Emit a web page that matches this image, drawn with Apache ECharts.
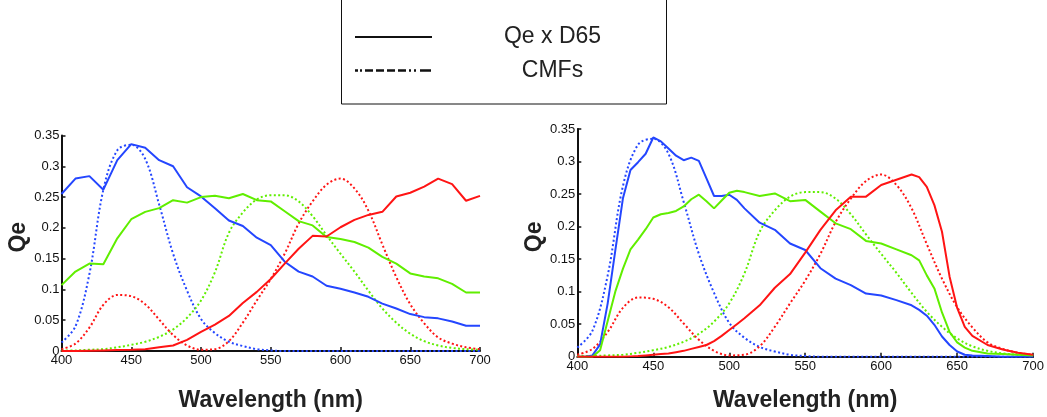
<!DOCTYPE html>
<html>
<head>
<meta charset="utf-8">
<script src="https://cdn.jsdelivr.net/npm/echarts@6/dist/echarts.min.js"></script>
<style>
html,body{margin:0;padding:0;background:#fff;}
#chart{width:1047px;height:417px;}
</style>
</head>
<body>
<div id="chart"></div>
<script>
// ---------- DATA ----------
const wl10 = [400,410,420,430,440,450,460,470,480,490,500,510,520,530,540,550,560,570,580,590,600,610,620,630,640,650,660,670,680,690,700];

// Colour matching functions (dotted), same in both panels
const cmfRed   = [0.003,0.012,0.038,0.075,0.091,0.089,0.076,0.051,0.026,0.009,0.002,0.003,0.016,0.046,0.082,0.117,0.158,0.207,0.243,0.270,0.280,0.264,0.228,0.173,0.120,0.076,0.045,0.022,0.012,0.006,0.003];
const cmfGreen = [0.001,0.001,0.002,0.003,0.006,0.010,0.015,0.023,0.035,0.054,0.082,0.128,0.192,0.225,0.246,0.253,0.253,0.243,0.219,0.188,0.158,0.129,0.098,0.069,0.046,0.028,0.016,0.009,0.005,0.003,0.002];
const cmfBlue  = [0.014,0.040,0.125,0.262,0.326,0.335,0.312,0.238,0.158,0.098,0.052,0.029,0.015,0.008,0.003,0.001,0,0,0,0,0,0,0,0,0,0,0,0,0,0,0];

// Left panel: Qe x D65 (solid)
const leftRed   = [0,0,0.0005,0.001,0.0015,0.002,0.003,0.006,0.009,0.018,0.031,0.043,0.057,0.078,0.096,0.117,0.142,0.166,0.187,0.186,0.201,0.213,0.221,0.226,0.251,0.257,0.267,0.280,0.271,0.244,0.252];
const leftGreen = [0.107,0.129,0.142,0.141,0.183,0.214,0.226,0.232,0.245,0.241,0.250,0.252,0.248,0.255,0.245,0.243,0.227,0.211,0.204,0.185,0.182,0.177,0.168,0.153,0.142,0.126,0.121,0.118,0.109,0.095,0.095];
const leftBlue  = [0.255,0.280,0.284,0.262,0.310,0.336,0.330,0.310,0.300,0.266,0.251,0.232,0.212,0.203,0.184,0.172,0.145,0.129,0.121,0.106,0.101,0.095,0.088,0.077,0.069,0.060,0.055,0.053,0.048,0.041,0.041];

// Right panel: Qe x D65 (solid)
const rightWl    = [400,405,410,415,420,425,430,435,440,445,450,455,460,465,470,475,480,485,490,495,500,505,510,520,530,540,550,560,570,580,590,600,610,620,625,630,635,640,645,650,655,660,670,680,690,700];
const rightRed   = [0,0,0,0,0,0,0,0.0005,0.001,0.002,0.003,0.004,0.005,0.007,0.009,0.012,0.015,0.018,0.024,0.032,0.041,0.050,0.059,0.079,0.106,0.127,0.160,0.195,0.225,0.246,0.246,0.264,0.272,0.280,0.276,0.261,0.233,0.192,0.123,0.075,0.046,0.032,0.018,0.011,0.006,0.003];
const rightGreen = [0,0,0,0.010,0.055,0.100,0.135,0.165,0.180,0.196,0.214,0.219,0.221,0.224,0.231,0.242,0.249,0.239,0.228,0.240,0.252,0.255,0.253,0.247,0.251,0.239,0.241,0.223,0.205,0.196,0.178,0.174,0.165,0.156,0.148,0.125,0.105,0.068,0.038,0.022,0.014,0.009,0.005,0.004,0.003,0.002];
const rightBlue  = [0,0,0.002,0.019,0.082,0.163,0.243,0.287,0.299,0.312,0.337,0.331,0.320,0.309,0.302,0.306,0.301,0.274,0.247,0.247,0.249,0.241,0.228,0.206,0.195,0.174,0.164,0.136,0.120,0.110,0.097,0.094,0.087,0.079,0.072,0.063,0.049,0.031,0.018,0.008,0.003,0.002,0.001,0,0,0];

const xTicks = {min:400, max:700, step:50};
const yTicks = {min:0, max:0.35, step:0.05};

// ---------- STYLE ----------
const C_RED = '#ff1414', C_GREEN = '#60ee00', C_BLUE = '#2446ff';
const FONT = '"Liberation Sans", Arial, sans-serif';

function pairs(xs, ys){ return xs.map((x,i)=>[x, ys[i]]); }

function solid(name, xs, ys, color, idx){
  return {name, type:'line', xAxisIndex:idx, yAxisIndex:idx, data:pairs(xs,ys), showSymbol:false,
    lineStyle:{color, width:2}, itemStyle:{color}, z:3, animation:false};
}
function dotted(name, xs, ys, color, idx){
  return {name, type:'line', xAxisIndex:idx, yAxisIndex:idx, data:pairs(xs,ys), showSymbol:false, smooth:0.35,
    lineStyle:{color, width:2, type:[2,2.4]}, itemStyle:{color}, z:2, animation:false};
}

function xAxis(idx, gap){
  return {type:'value', gridIndex:idx, min:xTicks.min, max:xTicks.max, interval:xTicks.step,
    name:'Wavelength (nm)', nameLocation:'middle', nameGap:gap,
    nameTextStyle:{fontFamily:FONT, fontSize:23, fontWeight:'bold', color:'#222'},
    axisLine:{show:true, onZero:false, lineStyle:{color:'#111', width:2}},
    axisTick:{show:true, inside:true, length:4, lineStyle:{color:'#111', width:1.5}},
    axisLabel:{fontFamily:FONT, fontSize:13, color:'#111', margin:3, showMinLabel:true, showMaxLabel:true},
    splitLine:{show:false}};
}
function yAxis(idx){
  return {type:'value', gridIndex:idx, min:yTicks.min, max:yTicks.max, interval:yTicks.step,
    name:'Qe', nameLocation:'middle', nameGap:31,
    nameTextStyle:{fontFamily:FONT, fontSize:23, fontWeight:'bold', color:'#222', padding:[0,0,0,12]},
    axisLine:{show:true, onZero:false, lineStyle:{color:'#111', width:2}},
    axisTick:{show:true, inside:true, length:4, lineStyle:{color:'#111', width:1.5}},
    axisLabel:{fontFamily:FONT, fontSize:13, color:'#111', margin:2, showMinLabel:true, showMaxLabel:true},
    splitLine:{show:false}};
}

const chart = echarts.init(document.getElementById('chart'), null, {renderer:'canvas'});
chart.setOption({
  backgroundColor:'#fff',
  animation:false,
  grid:[
    {left:61.5, top:135.5, width:418.5, height:215.5},
    {left:577.3, top:129, width:456.7, height:227.7}
  ],
  xAxis:[xAxis(0,38), xAxis(1,32)],
  yAxis:[yAxis(0), yAxis(1)],
  series:[
    dotted('CMF blue', wl10, cmfBlue, C_BLUE, 0),
    dotted('CMF green', wl10, cmfGreen, C_GREEN, 0),
    dotted('CMF red', wl10, cmfRed, C_RED, 0),
    solid('Qe x D65 blue', wl10, leftBlue, C_BLUE, 0),
    solid('Qe x D65 green', wl10, leftGreen, C_GREEN, 0),
    solid('Qe x D65 red', wl10, leftRed, C_RED, 0),
    dotted('CMF blue', wl10, cmfBlue, C_BLUE, 1),
    dotted('CMF green', wl10, cmfGreen, C_GREEN, 1),
    dotted('CMF red', wl10, cmfRed, C_RED, 1),
    solid('Qe x D65 blue', rightWl, rightBlue, C_BLUE, 1),
    solid('Qe x D65 green', rightWl, rightGreen, C_GREEN, 1),
    solid('Qe x D65 red', rightWl, rightRed, C_RED, 1)
  ],
  graphic:[
    {type:'rect', shape:{x:341.5, y:-1, width:325, height:105}, style:{fill:'#fff', stroke:'#111', lineWidth:1}, z:10},
    {type:'line', shape:{x1:355, y1:37, x2:432, y2:37}, style:{stroke:'#111', lineWidth:2}, z:11},
    {type:'line', shape:{x1:355, y1:70.5, x2:432, y2:70.5}, style:{stroke:'#111', lineWidth:2.5, lineDash:[3,2,2,3,8,3,8,3,8,3,8,3,2,3,2,4,8,0]}, z:11},
    {type:'text', x:552.5, y:37, style:{text:'Qe x D65', fontFamily:FONT, fontSize:23, fill:'#222', align:'center', verticalAlign:'middle'}, z:11},
    {type:'text', x:552.5, y:71, style:{text:'CMFs', fontFamily:FONT, fontSize:23, fill:'#222', align:'center', verticalAlign:'middle'}, z:11}
  ]
});
</script>
</body>
</html>
